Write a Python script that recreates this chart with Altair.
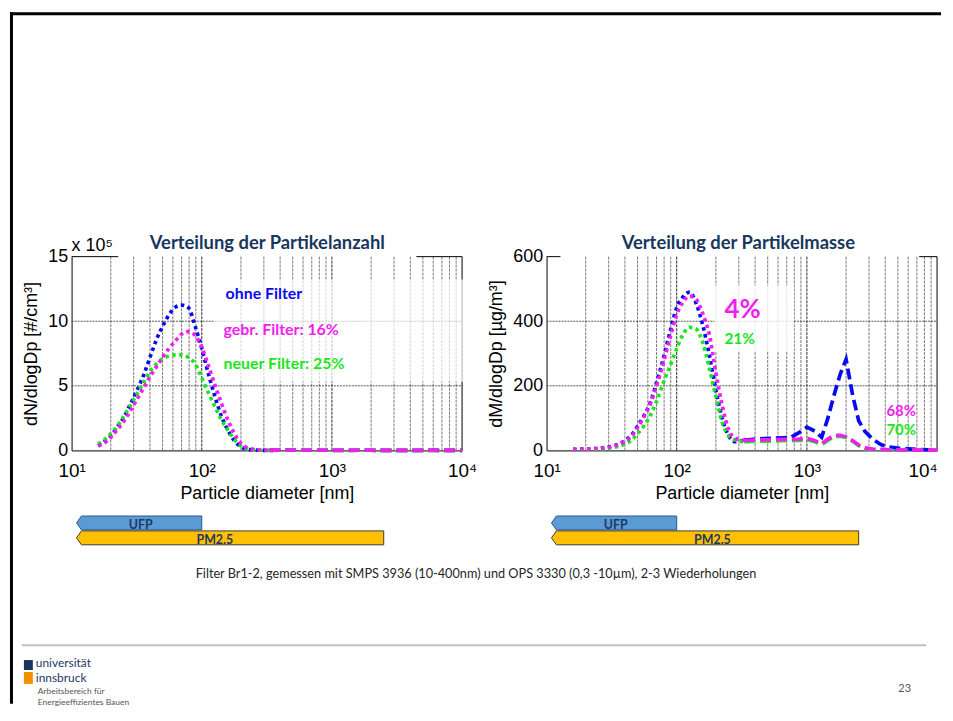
import altair as alt
import pandas as pd

# ---------------- data ----------------
# SMPS diameters [nm] (dotted curves)
d_smps = [16, 18, 20, 22, 25, 28, 32, 36, 40, 45, 50, 56, 63, 70, 79, 89,
          100, 112, 126, 141, 158, 178, 200, 224, 251, 282, 316, 355]
# number distribution dN/dlogDp [x 10^5 #/cm3]
n_ohne = [0.35, 0.7, 1.1, 1.7, 2.5, 3.5, 4.7, 5.9, 7.2, 8.6, 9.6, 10.5, 11.1, 11.25,
          11.05, 9.6, 7.9, 6.0, 4.2, 2.7, 1.6, 0.75, 0.28, 0.09, 0.03, 0.01, 0.0, 0.0]
n_gebr = [0.35, 0.6, 1.0, 1.5, 2.2, 3.0, 4.0, 4.9, 5.7, 6.5, 7.2, 7.9, 8.5, 9.0,
          9.2, 8.9, 8.0, 6.6, 5.1, 3.7, 2.4, 1.3, 0.55, 0.2, 0.08, 0.03, 0.01, 0.0]
n_neu = [0.5, 0.85, 1.3, 1.75, 2.6, 3.4, 4.4, 5.3, 6.1, 6.7, 7.1, 7.3, 7.4, 7.4,
         7.2, 6.7, 5.6, 4.5, 3.4, 2.4, 1.6, 0.85, 0.35, 0.12, 0.04, 0.01, 0.0, 0.0]
# mass distribution dM/dlogDp [ug/m3]
m_ohne = [3, 4, 4, 5, 6, 9, 13, 20, 30, 48, 75, 108, 150, 210, 285, 368,
          442, 476, 490, 455, 390, 295, 186, 98, 45, 27, 30, 32]
m_gebr = [3, 4, 4, 5, 6, 8, 12, 19, 28, 44, 70, 104, 146, 200, 272, 350,
          420, 460, 478, 468, 425, 358, 240, 138, 63, 38, 32, 32]
m_neu = [2, 2, 3, 3, 4, 6, 9, 13, 20, 32, 52, 76, 110, 152, 210, 262,
         315, 360, 381, 376, 335, 255, 165, 85, 46, 32, 28, 28]

# OPS diameters [nm] (dashed curves)
d_ops = [330, 400, 480, 560, 650, 750, 870, 1000, 1150, 1300, 1450, 1600, 1800,
         2000, 2250, 2500, 2800, 3200, 3700, 4300, 5000, 6000, 7000, 8500, 10000]
n_ops_ohne = [0.02, 0.02, 0.02, 0.01, 0.01, 0.01, 0.01, 0.01, 0.01, 0.01, 0.01, 0.01, 0.01,
              0.01, 0.0, 0.0, 0.0, 0.0, 0.0, 0.0, 0.0, 0.02, 0.0, 0.0, 0.0]
n_ops_gebr = [0.02, 0.02, 0.01, 0.01, 0.01, 0.01, 0.01, 0.01, 0.0, 0.0, 0.0, 0.01, 0.01,
              0.01, 0.0, 0.0, 0.0, 0.0, 0.0, 0.0, 0.0, 0.0, 0.0, 0.0, 0.0]
n_ops_neu = [0.02, 0.02, 0.01, 0.01, 0.01, 0.01, 0.01, 0.01, 0.0, 0.0, 0.0, 0.01, 0.01,
             0.01, 0.0, 0.0, 0.0, 0.0, 0.0, 0.0, 0.0, 0.0, 0.0, 0.0, 0.0]
m_ops_ohne = [31, 35, 37, 38, 39, 40, 55, 72, 60, 41, 100, 165, 235,
              282, 170, 92, 58, 35, 18, 10, 7, 5, 3, 2, 1]
m_ops_gebr = [30, 33, 33, 33, 34, 34, 35, 38, 30, 21, 35, 46, 47,
              42, 30, 17, 8, 4, 3, 2, 2, 1, 1, 1, 1]
m_ops_neu = [27, 28, 29, 29, 30, 30, 31, 34, 27, 18, 31, 42, 44,
             40, 28, 15, 6, 3, 2, 2, 1, 1, 1, 1, 1]

x_tick_values = [10, 100, 1000, 10000]
x_tick_labels = ["10¹", "10²", "10³", "10⁴"]
grid_minor = [20, 30, 40, 50, 60, 70, 80, 90, 200, 300, 400, 500, 600, 700, 800, 900,
              2000, 3000, 4000, 5000, 6000, 7000, 8000, 9000]
grid_major = [100, 1000]
n_ticks = [0, 5, 10, 15]
m_ticks = [0, 200, 400, 600]
n_hgrid = [5, 10]
m_hgrid = [200, 400]

arrow_names = ["UFP", "PM2.5"]
arrow_tip = [11.4, 11.4]
arrow_start = [11.9, 11.9]
arrow_end = [100, 2500]
arrow_label_left = [34, 126]
arrow_label_right = [34, 188]

# ---------------- styling ----------------
W, H = 393, 195
BLUE, MAG, GRN = "#0A0AF0", "#F21DF2", "#1AE61A"
NAVY = "#17375E"
DOT = [3.5, 3.5]
DASH = [11, 5]
AXFONT = "Liberation Sans"

xscale = alt.Scale(type="log", domain=[10, 10000], nice=False)
label_expr = " : ".join(
    f"datum.value == {v} ? '{l}'" for v, l in zip(x_tick_values[:-1], x_tick_labels[:-1])
) + f" : '{x_tick_labels[-1]}'"


def make_xaxis(last_align):
    return alt.Axis(
        values=x_tick_values, labelExpr=label_expr, title="Particle diameter [nm]",
        grid=False, ticks=False, domainColor="black", domainWidth=1,
        labelFont=AXFONT, labelFontSize=19, labelColor="black", labelPadding=11,
        labelFlush=False, labelOverlap=False,
        labelAlign={"condition": {"test": "datum.value == 10000", "value": last_align},
                    "value": "center"},
        titleFont=AXFONT, titleFontSize=18, titleFontWeight="normal",
        titleColor="black", titlePadding=4)


def make_yaxis(yticks, ytitle):
    return alt.Axis(
        values=yticks, title=ytitle, grid=False, ticks=False, domainColor="black",
        domainWidth=1, labelFont=AXFONT, labelFontSize=18, labelColor="black",
        labelPadding=4, labelFlush=False, titleFont=AXFONT, titleFontSize=18,
        titleFontWeight="normal", titleColor="black", titlePadding=7)


def one():
    return pd.DataFrame({"k": [0]})


def txt(s, x, y, size, color, weight="normal", font="Lato", align="left"):
    return alt.Chart(pd.DataFrame({"t": [s]})).mark_text(
        align=align, baseline="alphabetic", font=font, fontSize=size,
        fontWeight=weight, color=color
    ).encode(x=alt.value(x), y=alt.value(y), text="t:N")


def box(x1, x2, y1, y2, color, opacity=1.0):
    return alt.Chart(one()).mark_rect(color=color, opacity=opacity).encode(
        x=alt.value(x1), x2=alt.value(x2), y=alt.value(y1), y2=alt.value(y2))


def hline(x1, x2, y, color, w):
    return alt.Chart(one()).mark_rule(color=color, strokeWidth=w).encode(
        x=alt.value(x1), x2=alt.value(x2), y=alt.value(y))


def vline(x, y1, y2, color, w):
    return alt.Chart(one()).mark_rule(color=color, strokeWidth=w).encode(
        x=alt.value(x), y=alt.value(y1), y2=alt.value(y2))


def curve(d, v, color, dash, interp, yscale, xax, yax):
    df = pd.DataFrame({"d": d, "v": v})
    return alt.Chart(df).mark_line(
        color=color, strokeWidth=3.7, strokeDash=dash, interpolate=interp
    ).encode(x=alt.X("d:Q", scale=xscale, axis=xax),
             y=alt.Y("v:Q", scale=yscale, axis=yax))


def vgrid(vals, color, w, xax):
    return alt.Chart(pd.DataFrame({"g": vals})).mark_rule(
        color=color, strokeWidth=w, strokeDash=[3, 1]
    ).encode(x=alt.X("g:Q", scale=xscale, axis=xax), y=alt.value(0), y2=alt.value(H))


def hgrid(vals, yscale, yax):
    return alt.Chart(pd.DataFrame({"g": vals})).mark_rule(
        color="#555555", strokeWidth=1, strokeDash=[2, 1]
    ).encode(y=alt.Y("g:Q", scale=yscale, axis=yax), x=alt.value(0), x2=alt.value(W))


def arrows(label_x, xax):
    df = pd.DataFrame({"name": arrow_names, "tip": arrow_tip, "s": arrow_start,
                       "e": arrow_end, "lx": label_x})
    specs = [("UFP", 261, 275, "#5B9BD5", "#2E5A88"),
             ("PM2.5", 276, 290, "#FFC000", "#3A3A3A")]
    layers = []
    for name, y1, y2, fill, stroke in specs:
        row = df[df["name"] == name]
        layers.append(alt.Chart(row).mark_rect(fill=fill, stroke=stroke, strokeWidth=1).encode(
            x=alt.X("s:Q", scale=xscale, axis=xax), x2="e:Q",
            y=alt.value(y1), y2=alt.value(y2)))
        layers.append(alt.Chart(row).mark_point(
            shape="M-0.36,0 L0.36,-1 L0.5,-1 L0.5,1 L0.36,1 Z", filled=True,
            color=fill, strokeWidth=0, size=(y2 - y1) ** 2, opacity=1
        ).encode(x=alt.X("tip:Q", scale=xscale, axis=xax), y=alt.value((y1 + y2) / 2)))
        layers.append(alt.Chart(row).mark_point(
            shape="M0.36,-1 L-0.36,0 L0.36,1", filled=False,
            color=stroke, strokeWidth=1, size=(y2 - y1) ** 2, opacity=1
        ).encode(x=alt.X("tip:Q", scale=xscale, axis=xax), y=alt.value((y1 + y2) / 2)))
        layers.append(alt.Chart(row).mark_text(
            font="Lato", fontSize=12.5, fontWeight="bold", color="#1F3864",
            baseline="alphabetic", align="center"
        ).encode(x=alt.X("lx:Q", scale=xscale, axis=xax), y=alt.value(y2 - 1), text="name:N"))
    return layers


def panel_curves(d1, a, b, c, d2, e, f, g, ys, xax, yax):
    return [
        curve(d1, a, BLUE, DOT, "monotone", ys, xax, yax),
        curve(d1, c, GRN, DOT, "monotone", ys, xax, yax),
        curve(d1, b, MAG, DOT, "monotone", ys, xax, yax),
        curve(d2, e, BLUE, DASH, "linear", ys, xax, yax),
        curve(d2, g, GRN, DASH, "linear", ys, xax, yax),
        curve(d2, f, MAG, DASH, "linear", ys, xax, yax),
    ]


# ---------------- left panel: number ----------------
ys_n = alt.Scale(domain=[0, 15], nice=False)
xax_l = make_xaxis("center")
yax_l = make_yaxis(n_ticks, "dN/dlogDp [#/cm³]")
left = alt.layer(
    vgrid(grid_minor, "#7a7a7a", 1, xax_l),
    vgrid(grid_major, "#2a2a2a", 1, xax_l),
    hgrid(n_hgrid, ys_n, yax_l),
    # slide frame (black border at the top and left of the slide)
    vline(-60.5, -246, 450, "black", 3),
    hline(-62, 875, -244.5, "black", 3),
    vline(W, 0, H, "black", 1),
    hline(0, 47, 0, "black", 1),
    hline(347, W, 0, "black", 1),
    box(143, 396, 23, 126, "white", 0.7),
    *panel_curves(d_smps, n_ohne, n_gebr, n_neu, d_ops, n_ops_ohne, n_ops_gebr, n_ops_neu,
                  ys_n, xax_l, yax_l),
    txt("Verteilung der Partikelanzahl", 197, -8, 18.5, NAVY, "bold", align="center"),
    txt("x 10⁵", 0, -6, 18, "black", font=AXFONT),
    txt("ohne Filter", 155, 43, 16, BLUE, "bold"),
    txt("gebr. Filter: 16%", 153, 79, 16, MAG, "bold"),
    txt("neuer Filter: 25%", 153, 113, 16, GRN, "bold"),
    *arrows(arrow_label_left, xax_l),
    txt("Filter Br1-2, gemessen mit SMPS 3936 (10-400nm) und OPS 3330 (0,3 -10µm), 2-3 Wiederholungen",
        407, 323, 12.8, "#262626", align="center"),
    hline(-50, 860, 391, "#C0C0C0", 2),
    box(-48, -39, 406, 416, "#17365D"),
    box(-48, -39, 418, 430, "#F39200"),
    txt("universität", -36, 413, 12, "#1F3864"),
    txt("innsbruck", -36, 428, 12, "#1F3864"),
    txt("Arbeitsbereich für", -34, 440, 8.5, "#555555"),
    txt("Energieeffizientes Bauen", -34, 451, 8.5, "#555555"),
    txt("23", 832, 438, 11, "#595959"),
).properties(width=W, height=H)

# ---------------- right panel: mass ----------------
ys_m = alt.Scale(domain=[0, 600], nice=False)
xax_r = make_xaxis("right")
yax_r = make_yaxis(m_ticks, "dM/dlogDp [µg/m³]")
right = alt.layer(
    vgrid(grid_minor, "#7a7a7a", 1, xax_r),
    vgrid(grid_major, "#2a2a2a", 1, xax_r),
    hgrid(m_hgrid, ys_m, yax_r),
    vline(W, 0, H, "black", 1),
    hline(0, 14, 0, "black", 1),
    hline(375, W, 0, "black", 1),
    box(169, 249, 29, 96, "white", 0.8),
    *panel_curves(d_smps, m_ohne, m_gebr, m_neu, d_ops, m_ops_ohne, m_ops_gebr, m_ops_neu,
                  ys_m, xax_r, yax_r),
    txt("Verteilung der Partikelmasse", 193, -8, 18.5, NAVY, "bold", align="center"),
    txt("4%", 179, 62, 26, MAG, "bold"),
    txt("21%", 179, 88, 15.5, GRN, "bold"),
    txt("68%", 342, 160, 15, MAG, "bold"),
    txt("70%", 342, 179, 15, GRN, "bold"),
    *arrows(arrow_label_right, xax_r),
).properties(width=W, height=H)

chart = alt.hconcat(left, right, spacing=85, bounds="flush").properties(
    padding=0, background="white"
).configure_view(stroke=None)

chart.save("out.html", embed_options={"renderer": "svg", "actions": False})
